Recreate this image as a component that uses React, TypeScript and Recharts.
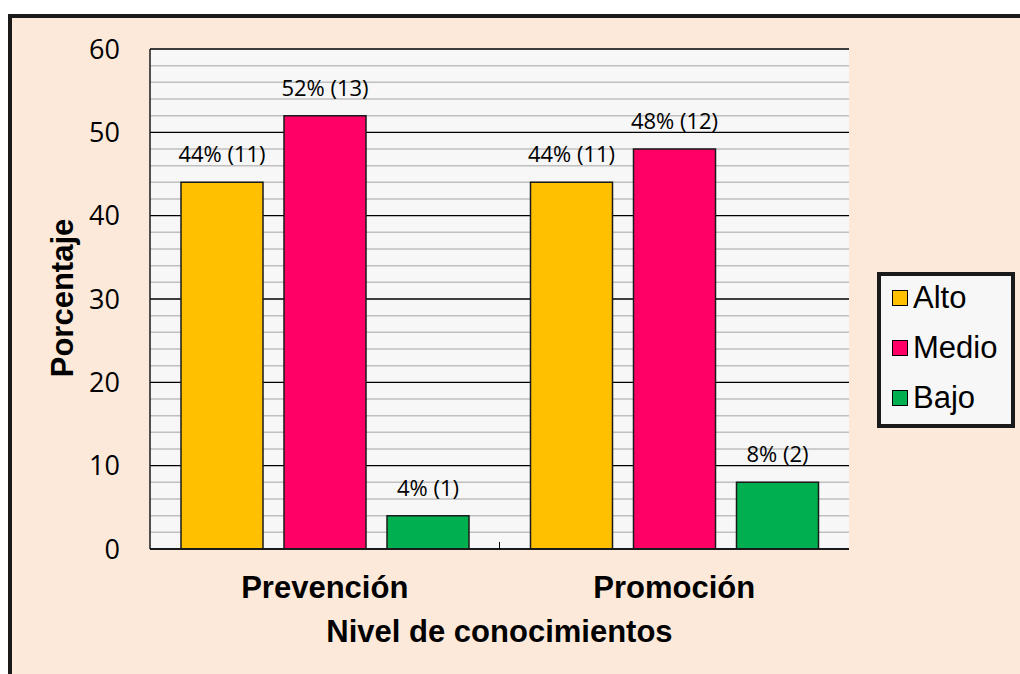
import React from 'react'
import {
  BarChart,
  Bar,
  XAxis,
  YAxis,
  CartesianGrid,
  Legend,
  LabelList,
  Label,
} from 'recharts'

const categories = ['Prevención', 'Promoción']
const alto = [44, 44]
const medio = [52, 48]
const bajo = [4, 8]
const altoCount = [11, 11]
const medioCount = [13, 12]
const bajoCount = [1, 2]
const yTicks = [0, 10, 20, 30, 40, 50, 60]
const minorTicks = [2, 4, 6, 8, 12, 14, 16, 18, 22, 24, 26, 28, 32, 34, 36, 38, 42, 44, 46, 48, 52, 54, 56, 58]

const series = [
  { key: 'Alto', color: '#FFC000' },
  { key: 'Medio', color: '#FF0066' },
  { key: 'Bajo', color: '#00B050' },
]

const data = categories.map((name, i) => ({
  name,
  Alto: alto[i],
  Medio: medio[i],
  Bajo: bajo[i],
  AltoLabel: `${alto[i]}% (${altoCount[i]})`,
  MedioLabel: `${medio[i]}% (${medioCount[i]})`,
  BajoLabel: `${bajo[i]}% (${bajoCount[i]})`,
}))

const numFont = '"Open Sans", "DejaVu Sans", sans-serif'
const titleFont = '"Liberation Sans", Arial, sans-serif'

// category name + the small divider tick between groups
const CategoryTick = (props: any) => {
  const { x, y, payload, index } = props
  const half = payload && typeof payload.offset === 'number' ? payload.offset : 0
  return (
    <g>
      <text
        x={x}
        y={y + 49}
        textAnchor="middle"
        fontFamily={titleFont}
        fontWeight="bold"
        fontSize={31}
        fill="#000"
      >
        {payload.value}
      </text>
      {index === 0 && half > 0 && (
        <line x1={x + half} x2={x + half} y1={y} y2={y - 7} stroke="#000" strokeWidth={1} />
      )}
    </g>
  )
}

const LegendBox = () => (
  <div
    style={{
      width: 138,
      height: 156,
      boxSizing: 'border-box',
      border: '4px solid #1a1a1a',
      background: '#F7F7F7',
      paddingLeft: 11,
    }}
  >
    <div style={{ marginTop: -3 }}>
      {series.map(s => (
        <div key={s.key} style={{ display: 'flex', alignItems: 'center', height: 50 }}>
          <span
            style={{
              display: 'inline-block',
              width: 16,
              height: 16,
              boxSizing: 'border-box',
              background: s.color,
              border: '1.5px solid #000',
              marginRight: 5,
            }}
          />
          <span style={{ fontFamily: titleFont, fontSize: 31, color: '#000', lineHeight: '32px' }}>{s.key}</span>
        </div>
      ))}
    </div>
  </div>
)

export default function App() {
  return (
    <div
      style={{
        position: 'fixed',
        left: 0,
        top: 0,
        width: 1020,
        height: 674,
        overflow: 'hidden',
        background: '#fff',
      }}
    >
      <div
        style={{
          position: 'absolute',
          left: 8,
          top: 14,
          width: 1040,
          height: 700,
          boxSizing: 'border-box',
          background: '#FDE9D9',
          border: '4px solid #1a1a1a',
        }}
      />
      <div style={{ position: 'absolute', left: 0, top: 0 }}>
        <BarChart
          width={1020}
          height={674}
          data={data}
          margin={{ top: 49, right: 171, bottom: 0, left: 30 }}
          barCategoryGap={31}
          barGap={21}
        >
          <CartesianGrid
            vertical={false}
            horizontalValues={minorTicks}
            stroke="#BFBFBF"
            strokeWidth={1.5}
            fill="#F7F7F7"
            fillOpacity={1}
          />
          <CartesianGrid vertical={false} horizontalValues={yTicks} stroke="#000" strokeWidth={1.3} />
          <XAxis
            dataKey="name"
            height={125}
            axisLine={{ stroke: '#1a1a1a', strokeWidth: 2 }}
            tickLine={false}
            tickSize={0}
            tickMargin={0}
            tick={<CategoryTick />}
          >
            <Label
              content={({ viewBox }: any) => (
                <text
                  x={viewBox.x + viewBox.width / 2}
                  y={viewBox.y + 93}
                  textAnchor="middle"
                  fontFamily={titleFont}
                  fontWeight="bold"
                  fontSize={31}
                  fill="#000"
                >
                  Nivel de conocimientos
                </text>
              )}
            />
          </XAxis>
          <YAxis
            width={120}
            domain={[0, 60]}
            ticks={yTicks}
            interval={0}
            axisLine={{ stroke: '#1a1a1a', strokeWidth: 1.5 }}
            tickLine={false}
            tickSize={0}
            tickMargin={30}
            tick={{ fontFamily: numFont, fontSize: 27, fill: '#000' }}
          >
            <Label
              content={({ viewBox }: any) => {
                const cx = viewBox.x + 43
                const cy = viewBox.y + viewBox.height / 2 - 1
                return (
                  <text
                    x={cx}
                    y={cy}
                    transform={`rotate(-90, ${cx}, ${cy})`}
                    textAnchor="middle"
                    fontFamily={titleFont}
                    fontWeight="bold"
                    fontSize={31}
                    fill="#000"
                  >
                    Porcentaje
                  </text>
                )
              }}
            />
          </YAxis>
          <YAxis
            yAxisId="right"
            orientation="right"
            width={0}
            domain={[0, 60]}
            tick={false}
            tickLine={false}
            axisLine={{ stroke: '#1a1a1a', strokeWidth: 1.5 }}
          />
          <Legend
            layout="vertical"
            align="center"
            verticalAlign="middle"
            wrapperStyle={{ left: 877, top: 272, width: 138 }}
            content={<LegendBox />}
          />
          {series.map(s => (
            <Bar
              key={s.key}
              dataKey={s.key}
              fill={s.color}
              stroke="#1a1a1a"
              strokeWidth={1.5}
              isAnimationActive={false}
            >
              <LabelList
                dataKey={`${s.key}Label`}
                position="top"
                offset={20}
                fontFamily={numFont}
                fontSize={22}
                fill="#000"
              />
            </Bar>
          ))}
        </BarChart>
      </div>
    </div>
  )
}
